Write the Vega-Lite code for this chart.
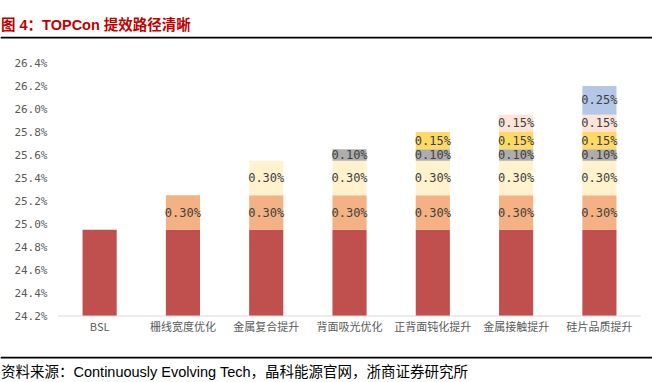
{
  "$schema": "https://vega.github.io/schema/vega-lite/v6.json",
  "background": "white",
  "padding": {"left": 0, "top": 17, "right": 0, "bottom": 0},
  "spacing": 14,
  "config": {"view": {"stroke": null}},
  "vconcat": [
    {
      "width": 652,
      "height": 0.5,
      "view": {"stroke": "#000000", "strokeWidth": 1.2},
      "title": {"text": "图 4：TOPCon 提效路径清晰", "anchor": "start", "frame": "group", "fontSize": 14.5, "fontWeight": "bold", "color": "#C00000", "font": "Liberation Sans, Noto Sans CJK SC", "offset": -2},
      "data": {"values": [{}]},
      "mark": {"type": "text", "text": ""},
      "encoding": {}
    },
    {
      "width": 640,
      "height": 253,
      "data": {"values": [
        {"cat": "BSL", "seg": "base", "ord": 0, "v": 0.2495},
        {"cat": "栅线宽度优化", "seg": "base", "ord": 0, "v": 0.2495},
        {"cat": "栅线宽度优化", "seg": "s1", "ord": 1, "v": 0.003},
        {"cat": "金属复合提升", "seg": "base", "ord": 0, "v": 0.2495},
        {"cat": "金属复合提升", "seg": "s1", "ord": 1, "v": 0.003},
        {"cat": "金属复合提升", "seg": "s2", "ord": 2, "v": 0.003},
        {"cat": "背面吸光优化", "seg": "base", "ord": 0, "v": 0.2495},
        {"cat": "背面吸光优化", "seg": "s1", "ord": 1, "v": 0.003},
        {"cat": "背面吸光优化", "seg": "s2", "ord": 2, "v": 0.003},
        {"cat": "背面吸光优化", "seg": "s3", "ord": 3, "v": 0.001},
        {"cat": "正背面钝化提升", "seg": "base", "ord": 0, "v": 0.2495},
        {"cat": "正背面钝化提升", "seg": "s1", "ord": 1, "v": 0.003},
        {"cat": "正背面钝化提升", "seg": "s2", "ord": 2, "v": 0.003},
        {"cat": "正背面钝化提升", "seg": "s3", "ord": 3, "v": 0.001},
        {"cat": "正背面钝化提升", "seg": "s4", "ord": 4, "v": 0.0015},
        {"cat": "金属接触提升", "seg": "base", "ord": 0, "v": 0.2495},
        {"cat": "金属接触提升", "seg": "s1", "ord": 1, "v": 0.003},
        {"cat": "金属接触提升", "seg": "s2", "ord": 2, "v": 0.003},
        {"cat": "金属接触提升", "seg": "s3", "ord": 3, "v": 0.001},
        {"cat": "金属接触提升", "seg": "s4", "ord": 4, "v": 0.0015},
        {"cat": "金属接触提升", "seg": "s5", "ord": 5, "v": 0.0015},
        {"cat": "硅片品质提升", "seg": "base", "ord": 0, "v": 0.2495},
        {"cat": "硅片品质提升", "seg": "s1", "ord": 1, "v": 0.003},
        {"cat": "硅片品质提升", "seg": "s2", "ord": 2, "v": 0.003},
        {"cat": "硅片品质提升", "seg": "s3", "ord": 3, "v": 0.001},
        {"cat": "硅片品质提升", "seg": "s4", "ord": 4, "v": 0.0015},
        {"cat": "硅片品质提升", "seg": "s5", "ord": 5, "v": 0.0015},
        {"cat": "硅片品质提升", "seg": "s6", "ord": 6, "v": 0.0025}
      ]},
      "transform": [
        {"stack": "v", "groupby": ["cat"], "sort": [{"field": "ord", "order": "ascending"}], "as": ["y0", "y1"]},
        {"calculate": "(datum.y0 + datum.y1) / 2", "as": "ymid"}
      ],
      "encoding": {
        "x": {
          "field": "cat", "type": "nominal",
          "sort": ["BSL", "栅线宽度优化", "金属复合提升", "背面吸光优化", "正背面钝化提升", "金属接触提升", "硅片品质提升"],
          "scale": {"paddingInner": 0.59, "paddingOuter": 0.6365, "align": 0.769},
          "axis": {"title": null, "labelAngle": 0, "labelFont": "Noto Sans CJK SC", "labelFontSize": 11, "labelColor": "#595959", "ticks": false, "tickSize": 0, "domain": false, "labelPadding": 5, "minExtent": 20}
        }
      },
      "layer": [
        {
          "mark": {"type": "bar", "clip": true},
          "encoding": {
            "y": {
              "field": "y0", "type": "quantitative",
              "scale": {"domain": [0.242, 0.264], "zero": false, "nice": false},
              "axis": {"title": null, "values": [0.242, 0.244, 0.246, 0.248, 0.25, 0.252, 0.254, 0.256, 0.258, 0.26, 0.262, 0.264], "format": ".1%", "grid": false, "domain": false, "ticks": false, "tickSize": 0, "labelPadding": 11, "offset": -57, "labelOverlap": false, "labelBound": false, "labelFont": "DejaVu Sans Mono", "labelFontSize": 11, "labelColor": "#595959"}
            },
            "y2": {"field": "y1"},
            "color": {
              "field": "seg", "type": "nominal", "legend": null,
              "scale": {"domain": ["base", "s1", "s2", "s3", "s4", "s5", "s6"], "range": ["#C0504D", "#F4B183", "#FFF2CC", "#ADADAD", "#FFD966", "#FBE5D6", "#B4C7E7"]}
            }
          }
        },
        {
          "transform": [{"filter": "datum.cat == 'BSL'"}],
          "mark": {"type": "rule", "color": "#D9D9D9", "strokeWidth": 1},
          "encoding": {
            "x": {"datum": "BSL", "bandPosition": -0.716},
            "x2": {"datum": "硅片品质提升", "bandPosition": 1.71},
            "y": {
              "datum": 0.242, "type": "quantitative",
              "axis": {"title": null, "values": [0.242, 0.244, 0.246, 0.248, 0.25, 0.252, 0.254, 0.256, 0.258, 0.26, 0.262, 0.264], "format": ".1%", "grid": false, "domain": false, "ticks": false, "tickSize": 0, "labelPadding": 11, "offset": -57, "labelOverlap": false, "labelBound": false, "labelFont": "DejaVu Sans Mono", "labelFontSize": 11, "labelColor": "#595959"}
            }
          }
        },
        {
          "transform": [{"filter": "datum.seg != 'base'"}],
          "mark": {"type": "text", "font": "DejaVu Sans Mono", "fontSize": 12, "color": "#404040"},
          "encoding": {
            "y": {
              "field": "ymid", "type": "quantitative",
              "axis": {"title": null, "values": [0.242, 0.244, 0.246, 0.248, 0.25, 0.252, 0.254, 0.256, 0.258, 0.26, 0.262, 0.264], "format": ".1%", "grid": false, "domain": false, "ticks": false, "tickSize": 0, "labelPadding": 11, "offset": -57, "labelOverlap": false, "labelBound": false, "labelFont": "DejaVu Sans Mono", "labelFontSize": 11, "labelColor": "#595959"}
            },
            "text": {"field": "v", "type": "quantitative", "format": ".2%"}
          }
        }
      ]
    },
    {
      "width": 652,
      "height": 0.5,
      "view": {"stroke": "#000000", "strokeWidth": 1.2},
      "title": {"text": "资料来源：Continuously Evolving Tech，晶科能源官网，浙商证券研究所", "orient": "bottom", "anchor": "start", "frame": "group", "fontSize": 14.5, "fontWeight": "normal", "color": "#000000", "font": "Liberation Sans, Noto Sans CJK SC", "offset": 4},
      "data": {"values": [{}]},
      "mark": {"type": "text", "text": ""},
      "encoding": {}
    }
  ]
}
